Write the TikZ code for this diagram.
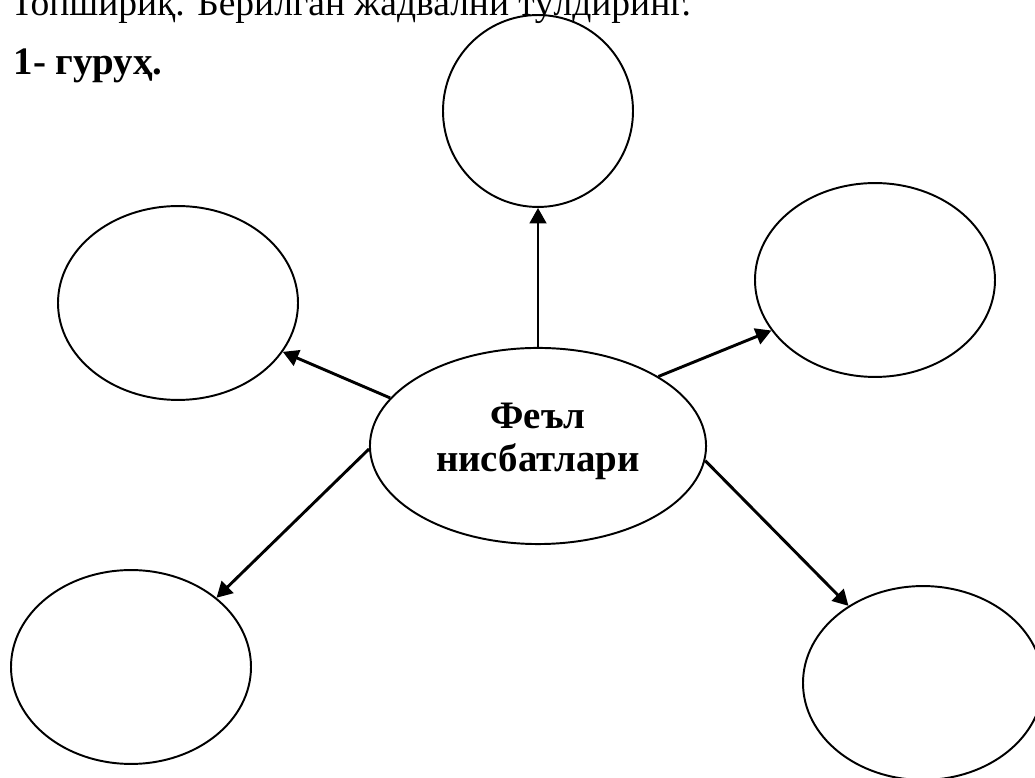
\documentclass[tikz,border=0pt]{standalone}
\usepackage{fontspec}
\setmainfont{Liberation Serif}
\usetikzlibrary{arrows.meta, shapes.geometric}

\begin{document}
\begin{tikzpicture}[x=0.36pt, y=-0.36pt,
    oval/.style={draw, ellipse, line width=0.7pt, inner sep=0pt, minimum width=86.4pt, minimum height=69.8pt},
    arr/.style={-{Triangle[length=5.6pt, width=6pt]}, line width=1.05pt},
    txt/.style={inner sep=0pt, font=\fontsize{14pt}{15.5pt}\selectfont}]
    \useasboundingbox (0,0) rectangle (1035,778);

    % heading lines
    \node[txt, font=\fontsize{13.5pt}{15.5pt}\selectfont, anchor=base west] (task) at (10,16) {Топшириқ. Берилган жадвални тўлдиринг.};
    \node[txt, font=\fontsize{14pt}{15.5pt}\selectfont\bfseries, anchor=base west] (grp) at (13,75) {1- гуруҳ.};

    % ellipses
    \node[oval, minimum width=121pt, minimum height=70.6pt, align=center, text depth=6.2pt,
          font=\fontsize{14pt}{15.5pt}\selectfont\bfseries] (FN) at (538,446) {Феъл\\нисбатлари};
    \node[oval, minimum width=68.4pt, minimum height=69.1pt] (E1) at (538,111) {};
    \node[oval] (E2) at (178,303) {};
    \node[oval] (E3) at (875,280) {};
    \node[oval] (E4) at (131,667) {};
    \node[oval] (E5) at (923,683) {};

    % arrows
    \draw[arr] (FN.90) -- (E1.270);
    \draw[arr] (FN.162) -- (E2.335);
    \draw[arr] (FN.30) -- (E3.206);
    \draw[arr] (FN.181) -- (E4.39);
    \draw[arr] (FN.355) -- (E5.134);
\end{tikzpicture}
\end{document}
